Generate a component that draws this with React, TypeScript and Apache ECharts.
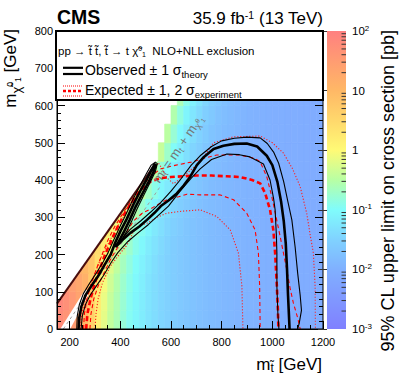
import React, { useEffect, useRef } from "react";
import * as echarts from "echarts";

const FONT = "'Liberation Sans', Arial, Helvetica, sans-serif";

// ---------- heat map: log10(95% CL upper limit [pb]), x bins 25 GeV, y rows 50 GeV ----------
const binWidth = 25;
const rowHeight = 50;
const rowStartX = [150, 150, 175, 225, 275, 325, 375, 425, 475, 550, 575, 600, 625];
const limitLog10Rows: number[][] = [
  [1.79,1.65,1.50,1.33,1.06,0.61,0.15,-0.18,-0.42,-0.61,-0.80,-0.95,-1.07,-1.18,-1.28,-1.37,-1.45,-1.52,-1.58,-1.63,-1.68,-1.72,-1.76,-1.80,-1.83,-1.86,-1.88,-1.90,-1.92,-1.94,-1.96,-1.97,-1.99,-2.00,-2.02,-2.03,-2.04,-2.05,-2.06,-2.07,-2.08,-2.09],
  [1.85,1.72,1.56,1.38,1.10,0.66,0.20,-0.15,-0.40,-0.59,-0.77,-0.93,-1.07,-1.18,-1.28,-1.37,-1.45,-1.52,-1.58,-1.63,-1.68,-1.72,-1.76,-1.80,-1.83,-1.86,-1.88,-1.90,-1.92,-1.94,-1.96,-1.97,-1.99,-2.00,-2.02,-2.03,-2.04,-2.05,-2.06,-2.07,-2.08,-2.09],
  [1.55,1.45,1.30,1.12,0.74,0.28,-0.08,-0.34,-0.55,-0.74,-0.90,-1.04,-1.16,-1.28,-1.37,-1.45,-1.52,-1.58,-1.63,-1.68,-1.72,-1.76,-1.80,-1.83,-1.86,-1.88,-1.90,-1.92,-1.94,-1.96,-1.97,-1.99,-2.00,-2.02,-2.03,-2.04,-2.05,-2.06,-2.07,-2.08,-2.09],
  [1.10,1.00,0.80,0.40,0.04,-0.23,-0.45,-0.66,-0.84,-0.99,-1.12,-1.24,-1.34,-1.44,-1.52,-1.58,-1.63,-1.68,-1.72,-1.76,-1.80,-1.83,-1.86,-1.88,-1.90,-1.92,-1.94,-1.96,-1.97,-1.99,-2.00,-2.02,-2.03,-2.04,-2.05,-2.06,-2.07,-2.08,-2.09],
  [0.65,0.45,0.20,-0.08,-0.32,-0.54,-0.74,-0.91,-1.05,-1.19,-1.30,-1.40,-1.49,-1.57,-1.63,-1.68,-1.72,-1.76,-1.80,-1.83,-1.86,-1.88,-1.90,-1.92,-1.94,-1.96,-1.97,-1.99,-2.00,-2.02,-2.03,-2.04,-2.05,-2.06,-2.07,-2.08,-2.09],
  [0.33,0.15,-0.10,-0.36,-0.58,-0.77,-0.94,-1.10,-1.23,-1.35,-1.45,-1.53,-1.60,-1.67,-1.72,-1.76,-1.80,-1.83,-1.86,-1.88,-1.90,-1.92,-1.94,-1.96,-1.97,-1.99,-2.00,-2.02,-2.03,-2.04,-2.05,-2.06,-2.07,-2.08,-2.09],
  [0.05,-0.08,-0.33,-0.56,-0.75,-0.94,-1.09,-1.24,-1.36,-1.48,-1.56,-1.63,-1.69,-1.75,-1.80,-1.83,-1.86,-1.88,-1.90,-1.92,-1.94,-1.96,-1.97,-1.99,-2.00,-2.02,-2.03,-2.04,-2.05,-2.06,-2.07,-2.08,-2.09],
  [-0.12,-0.22,-0.44,-0.69,-0.89,-1.07,-1.22,-1.36,-1.46,-1.56,-1.64,-1.71,-1.77,-1.82,-1.86,-1.88,-1.90,-1.92,-1.94,-1.96,-1.97,-1.99,-2.00,-2.02,-2.03,-2.04,-2.05,-2.06,-2.07,-2.08,-2.09],
  [-0.25,-0.33,-0.53,-0.79,-1.00,-1.17,-1.32,-1.45,-1.55,-1.64,-1.72,-1.78,-1.83,-1.87,-1.90,-1.92,-1.94,-1.96,-1.97,-1.99,-2.00,-2.02,-2.03,-2.04,-2.05,-2.06,-2.07,-2.08,-2.09],
  [-0.40,-0.72,-0.98,-1.17,-1.33,-1.46,-1.56,-1.67,-1.74,-1.80,-1.84,-1.88,-1.92,-1.94,-1.96,-1.97,-1.99,-2.00,-2.02,-2.03,-2.04,-2.05,-2.06,-2.07,-2.08,-2.09],
  [-0.48,-0.78,-1.03,-1.22,-1.37,-1.50,-1.60,-1.70,-1.77,-1.82,-1.86,-1.90,-1.94,-1.96,-1.97,-1.99,-2.00,-2.02,-2.03,-2.04,-2.05,-2.06,-2.07,-2.08,-2.09],
  [-0.55,-0.84,-1.08,-1.26,-1.41,-1.54,-1.63,-1.73,-1.79,-1.84,-1.88,-1.92,-1.96,-1.97,-1.99,-2.00,-2.02,-2.03,-2.04,-2.05,-2.06,-2.07,-2.08,-2.09],
  [-0.60,-0.89,-1.12,-1.30,-1.45,-1.57,-1.66,-1.75,-1.81,-1.86,-1.90,-1.94,-1.97,-1.99,-2.00,-2.02,-2.03,-2.04,-2.05,-2.06,-2.07,-2.08,-2.09],
];

// scan region edge along the diagonal, and the uncovered corridor at m_stop ~ m_top
const diagonalEdge = [[150, 68], [537, 442]];
const stairFromY = 450;
const gapRegion = [[163, 0], [202, 0], [278, 97], [262, 107]];
const diagGuide = [[175, 0], [560, 385]];
const diagLabelAt = [628, 484];

// ---------- exclusion contours [m_stop, m_LSP] ----------
const observed = [
  [235,0],[238,30],[246,60],[262,90],[285,115],[315,145],[340,175],[362,200],
  [380,232],[400,262],[425,295],[452,335],[480,372],[505,403],[525,430],[535,442],
  [540,440],[530,420],[508,390],[482,357],[458,325],[437,293],[415,262],[395,236],[384,222],
  [410,240],[440,258],[475,275],[505,293],[535,312],[560,330],[590,345],[623,364],[650,385],
  [676,409],[702,440],[730,462],[768,483],[807,492],[850,497],[899,498],[940,490],[978,465],
  [1000,440],[1020,395],[1035,340],[1045,290],[1053,230],[1058,160],[1062,90],[1066,30],[1068,0],
];
const observedUp = [
  [228,0],[230,35],[238,65],[254,95],[278,122],[305,150],[332,180],[352,205],
  [372,236],[395,270],[420,305],[448,345],[476,383],[502,416],[522,440],[538,448],
  [546,444],[538,422],[515,390],[490,356],[466,322],[445,290],[425,262],[405,240],
  [440,268],[480,290],[520,314],[560,340],[600,370],[636,400],[680,440],[715,465],[760,490],
  [800,505],[850,512],[900,515],[952,513],[980,498],[1005,475],[1025,445],[1045,395],[1062,340],
  [1077,293],[1090,220],[1100,150],[1110,90],[1115,50],[1106,15],[1100,0],
];
const observedDown = [
  [245,0],[250,35],[262,65],[280,90],[305,115],[335,145],[365,180],[390,205],[430,235],
  [470,258],[510,280],[550,305],[590,330],[636,370],[680,405],[715,430],[760,455],[821,470],
  [870,468],[912,462],[965,443],[991,400],[1005,350],[1011,320],[1016,250],[1018,204],
  [1018,114],[1022,40],[1026,0],
];
const expected = [
  [265,0],[270,40],[282,80],[298,120],[318,160],[340,200],[365,238],[390,275],[415,308],
  [440,336],[465,358],[490,380],[520,396],[560,405],[600,408],[650,410],[700,412],[760,412],
  [820,410],[873,408],[920,400],[952,391],[972,364],[991,320],[1004,266],[1011,204],
  [1018,114],[1022,50],[1024,0],
];
const expectedUp1 = [
  [255,0],[258,40],[268,80],[285,120],[305,160],[328,200],[352,240],[378,275],[405,305],
  [432,333],[460,362],[490,385],[520,410],[560,430],[620,440],[680,448],[740,460],[781,467],
  [873,467],[930,458],[952,449],[978,409],[998,355],[1015,300],[1031,248],[1045,200],
  [1057,159],[1070,110],[1083,70],[1100,30],[1110,0],
];
const expectedDown1 = [
  [280,0],[284,40],[295,80],[312,115],[335,150],[360,185],[390,220],[420,255],[452,290],
  [485,310],[518,322],[550,335],[584,347],[630,355],[663,362],[715,360],[794,360],[847,347],
  [899,311],[932,266],[945,204],[950,114],[952,0],
];
const expectedUp2 = [
  [243,0],[246,30],[254,60],[266,90],[282,120],[300,150],[320,185],[345,220],[370,252],
  [400,288],[430,320],[460,352],[490,385],[515,412],[535,432],[550,446],[565,430],[585,405],
  [610,390],[650,410],[715,449],[768,500],[847,516],[952,518],[1000,500],[1044,472],
  [1080,430],[1110,382],[1136,310],[1150,250],[1162,204],[1169,114],[1170,0],
];
const expectedDown2 = [
  [300,0],[304,40],[312,80],[330,125],[360,168],[400,204],[426,225],[452,262],[480,278],
  [505,284],[545,300],[584,311],[640,316],[715,320],[781,302],[834,266],[866,204],[880,114],
  [884,0],
];

// ---------- axes ----------
const xLabelValues = [200, 400, 600, 800, 1000, 1200];
const zDecades = [-3, -2, -1, 0, 1, 2];
const palette = [
  "#8080ff", "#8098ff", "#80b0ff", "#80d2ff", "#80fcfc", "#b8ffa4",
  "#fffa76", "#ffd86c", "#ffb866", "#ff9c72", "#ff8080",
];

const GRID = { left: 57, top: 31, width: 266, height: 298 };
const CB = { left: 327, top: 31, width: 19, height: 298 };

export default function App() {
  const ref = useRef<HTMLDivElement>(null);
  useEffect(() => {
    const chart = echarts.init(ref.current as HTMLDivElement, null, { renderer: "svg" });

    const heatData: number[][] = [];
    limitLog10Rows.forEach((row, r) =>
      row.forEach((v, i) => {
        const x0 = rowStartX[r] + i * binWidth;
        const y0 = r * rowHeight;
        heatData.push([x0, y0, x0 + binWidth, y0 + rowHeight, v]);
      })
    );
    const [[ex0, ey0], [ex1, ey1]] = diagonalEdge;
    const slope = (ey1 - ey0) / (ex1 - ex0);
    const f = (p: number[]) => ey0 + slope * (p[0] - ex0) - p[1];
    const clipPoly = (pts: number[][]) => {
      const out: number[][] = [];
      for (let i = 0; i < pts.length; i++) {
        const cur = pts[i];
        const prev = pts[(i + pts.length - 1) % pts.length];
        const fc = f(cur), fp = f(prev);
        const cut = () => {
          const t = fp / (fp - fc);
          return [prev[0] + t * (cur[0] - prev[0]), prev[1] + t * (cur[1] - prev[1])];
        };
        if (fc >= 0) {
          if (fp < 0) out.push(cut());
          out.push(cur);
        } else if (fp >= 0) out.push(cut());
      }
      return out;
    };

    const minorZ: number[][] = [];
    zDecades.slice(0, -1).forEach((d) => {
      for (let k = 2; k <= 9; k++) minorZ.push([0, d + Math.log10(k)]);
    });

    const contour = (data: number[][], color: string, width: number, type: any, z: number) => ({
      type: "line",
      data,
      xAxisIndex: 0,
      yAxisIndex: 0,
      symbol: "none",
      showSymbol: false,
      silent: true,
      clip: true,
      z,
      lineStyle: { color, width, type, cap: "butt", join: "round" },
      emphasis: { disabled: true },
    });

    const sub = (size: number, pad: number) => ({
      fontSize: size, fontFamily: FONT, fill: "#000", color: "#000", verticalAlign: "bottom", padding: [pad, 0, 0, 0],
    });
    const sup = (size: number, pad: number) => ({
      fontSize: size, fontFamily: FONT, fill: "#000", color: "#000", verticalAlign: "top", padding: [0, 0, pad, 0],
    });
    const norm = (size: number) => ({ fontSize: size, fontFamily: FONT, fill: "#000", color: "#000" });

    const graphics: any[] = [
      {
        type: "rect", id: "cbar", z: 50,
        shape: { x: CB.left, y: CB.top, width: CB.width, height: CB.height },
        style: {
          fill: new echarts.graphic.LinearGradient(0, 0, 0, 1,
            palette.slice().reverse().map((c, i) => ({ offset: i / (palette.length - 1), color: c }))),
        },
      },
      {
        type: "rect", id: "legbox", z: 100,
        shape: { x: 56, y: 31, width: 267, height: 69 },
        style: { fill: "#fff", stroke: "#000", lineWidth: 2 },
      },
      {
        type: "text", id: "leg1", z: 101,
        style: {
          x: 58, y: 51, text: "{n|pp → t̃ t̃, t̃ → t χ̃}{u|0}{d|1}{n|  NLO+NLL exclusion}",
          verticalAlign: "middle", textVerticalAlign: "middle",
          rich: { n: norm(11.5), u: sup(7, 4), d: sub(7, 6) },
        },
      },
      { type: "line", id: "lo1", z: 101, shape: { x1: 63, y1: 67.8, x2: 83, y2: 67.8 }, style: { stroke: "#000", lineWidth: 2.2 } },
      { type: "line", id: "lo2", z: 101, shape: { x1: 63, y1: 74, x2: 83, y2: 74 }, style: { stroke: "#000", lineWidth: 2.2 } },
      {
        type: "text", id: "leg2", z: 101,
        style: {
          x: 85, y: 70, text: "{n|Observed ± 1 σ}{d|theory}",
          verticalAlign: "middle", textVerticalAlign: "middle",
          rich: { n: norm(14), d: sub(9.5, 8) },
        },
      },
      { type: "line", id: "le1", z: 101, shape: { x1: 63, y1: 86, x2: 83, y2: 86 }, style: { stroke: "#f00", lineWidth: 1, lineDash: [1, 1] } },
      { type: "line", id: "le2", z: 101, shape: { x1: 63, y1: 91, x2: 83, y2: 91 }, style: { stroke: "#f00", lineWidth: 2.6, lineDash: [3, 2] } },
      { type: "line", id: "le3", z: 101, shape: { x1: 63, y1: 96, x2: 83, y2: 96 }, style: { stroke: "#f00", lineWidth: 1, lineDash: [1, 1] } },
      {
        type: "text", id: "leg3", z: 101,
        style: {
          x: 85, y: 90, text: "{n|Expected ± 1, 2 σ}{d|experiment}",
          verticalAlign: "middle", textVerticalAlign: "middle",
          rich: { n: norm(14), d: sub(9.5, 8) },
        },
      },
      {
        type: "text", id: "cms", z: 101,
        style: { x: 57, y: 16.5, text: "CMS", fontSize: 19.5, fontWeight: "bold", fontFamily: FONT, fill: "#000", verticalAlign: "middle", textVerticalAlign: "middle" },
      },
      {
        type: "text", id: "lumi", z: 101,
        style: {
          x: 323, y: 18, text: "{n|35.9 fb}{s|-1}{n| (13 TeV)}",
          align: "right", textAlign: "right", verticalAlign: "middle", textVerticalAlign: "middle",
          rich: { n: norm(17), s: sup(10.5, 6) },
        },
      },
      {
        type: "text", id: "ytitle", z: 101, x: 10, y: 29, rotation: Math.PI / 2,
        style: {
          text: "{m|m}{c|χ̃}{u|0}{d|1}{m| [GeV]}",
          align: "right", textAlign: "right", verticalAlign: "middle", textVerticalAlign: "middle",
          rich: { m: norm(17), c: sub(13, 8), u: norm(8.5), d: sub(8.5, 16) },
        },
      },
      {
        type: "text", id: "xtitle", z: 101, x: 322, y: 364,
        style: {
          text: "{m|m}{c|t̃}{m| [GeV]}",
          align: "right", textAlign: "right", verticalAlign: "middle", textVerticalAlign: "middle",
          rich: { m: norm(17), c: sub(12, 8) },
        },
      },
      {
        type: "text", id: "ztitle", z: 101, x: 388, y: 30, rotation: Math.PI / 2,
        style: {
          text: "95% CL upper limit on cross section [pb]",
          fontSize: 18, fontFamily: FONT, fill: "#000",
          align: "right", textAlign: "right", verticalAlign: "middle", textVerticalAlign: "middle",
        },
      },
    ];

    const option: any = {
      animation: false,
      backgroundColor: "#fff",
      grid: [
        { ...GRID, show: true, borderColor: "#000", borderWidth: 1, backgroundColor: "transparent", z: 10 },
        { ...CB, show: false },
      ],
      xAxis: [
        {
          type: "value", gridIndex: 0, min: 150, max: 1200, position: "bottom",
          axisLine: { show: true, lineStyle: { color: "#000", width: 1 } },
          axisTick: { show: true, inside: true, length: 8, lineStyle: { color: "#000" }, customValues: xLabelValues },
          axisLabel: {
            customValues: xLabelValues, color: "#000", fontSize: 11, fontFamily: FONT, margin: 7,
            formatter: (v: number) => String(v),
          },
          splitLine: { show: false },
          z: 10,
        },
        {
          type: "value", gridIndex: 0, min: 150, max: 1200, interval: 50, position: "bottom",
          axisLine: { show: false },
          axisTick: { show: true, inside: true, length: 4, lineStyle: { color: "#000" } },
          axisLabel: { show: false },
          splitLine: { show: false },
          z: 10,
        },
        { type: "value", gridIndex: 1, min: 0, max: 1, show: false },
      ],
      yAxis: [
        {
          type: "value", gridIndex: 0, min: 0, max: 800, interval: 100, position: "left",
          axisLine: { show: true, lineStyle: { color: "#000", width: 1 } },
          axisTick: { show: true, inside: true, length: 8, lineStyle: { color: "#000" } },
          minorTick: { show: true, splitNumber: 5, length: 4, lineStyle: { color: "#000" } },
          axisLabel: { color: "#000", fontSize: 11, fontFamily: FONT, margin: 4, formatter: (v: number) => String(v) },
          splitLine: { show: false },
          z: 10,
        },
        {
          type: "value", gridIndex: 0, min: 0, max: 800, interval: 100, position: "right",
          axisLine: { show: false },
          axisTick: { show: true, inside: true, length: 8, lineStyle: { color: "#000" } },
          minorTick: { show: true, splitNumber: 5, length: 4, lineStyle: { color: "#000" } },
          axisLabel: { show: false },
          splitLine: { show: false },
          z: 10,
        },
        {
          type: "value", gridIndex: 1, min: -3, max: 2, interval: 1, position: "right",
          axisLine: { show: false },
          axisTick: { show: true, inside: true, length: 9, lineStyle: { color: "#333" } },
          axisLabel: {
            margin: 6,
            formatter: (v: number) =>
              v === 0 ? "{b|1}" : v === 1 ? "{b|10}" : `{b|10}{s|${v}}`,
            rich: {
              b: { fontSize: 11.5, fontFamily: FONT, color: "#000" },
              s: { fontSize: 8, fontFamily: FONT, color: "#000", verticalAlign: "top", padding: [0, 0, 6, 0] },
            },
          },
          splitLine: { show: false },
          z: 60,
        },
      ],
      visualMap: {
        type: "continuous", show: false, min: -3, max: 2, dimension: 4, seriesIndex: 0,
        inRange: { color: palette },
      },
      graphic: graphics,
      series: [
        {
          type: "custom", xAxisIndex: 0, yAxisIndex: 0, data: heatData, clip: true, silent: true, z: 1,
          encode: { x: [0, 2], y: [1, 3] },
          renderItem: (params: any, api: any) => {
            const x0 = api.value(0), y0 = api.value(1), x1 = api.value(2), y1 = api.value(3);
            let pts = [[x0, y0], [x1, y0], [x1, y1], [x0, y1]];
            if (y0 < stairFromY) pts = clipPoly(pts);
            if (pts.length < 3) return null;
            const color = api.visual("color");
            return {
              type: "polygon",
              shape: { points: pts.map((p) => api.coord(p)) },
              style: { fill: color, stroke: color, lineWidth: 0.7 },
            };
          },
        },
        {
          type: "custom", xAxisIndex: 0, yAxisIndex: 0, data: [[0]], clip: true, silent: true, z: 2,
          renderItem: (params: any, api: any) => ({
            type: "polygon",
            shape: { points: gapRegion.map((p) => api.coord(p)) },
            style: { fill: "#fff" },
          }),
        },
        contour(diagGuide, "#a0a0a0", 1, [3, 3], 3),
        contour(expectedDown2, "#ff2020", 1.1, [1.2, 1.8], 4),
        contour(expectedUp2, "#ff2020", 1.1, [1.2, 1.8], 4),
        contour(expectedDown1, "#ff0000", 1.1, [4, 3], 4),
        contour(expectedUp1, "#ff0000", 1.1, [4, 3], 4),
        contour(expected, "#ff0000", 2.6, [5, 3], 5),
        contour(diagonalEdge, "#4a0e0e", 2, "solid", 6),
        contour(observedDown, "#000", 1.1, "solid", 6),
        contour(observedUp, "#000", 1.1, "solid", 6),
        contour(observed, "#000", 2.6, "solid", 7),
        {
          type: "custom", xAxisIndex: 2, yAxisIndex: 2, data: minorZ, silent: true, z: 60,
          renderItem: (params: any, api: any) => {
            const pt = api.coord([0, api.value(1)]);
            const cs = params.coordSys;
            return {
              type: "line",
              shape: { x1: cs.x + cs.width - 4.5, y1: pt[1], x2: cs.x + cs.width, y2: pt[1] },
              style: { stroke: "#333", lineWidth: 1 },
            };
          },
        },
      ],
    };
    chart.setOption(option);

    const p = chart.convertToPixel({ gridIndex: 0 }, diagLabelAt) as number[];
    const a = chart.convertToPixel({ gridIndex: 0 }, diagGuide[0]) as number[];
    const b = chart.convertToPixel({ gridIndex: 0 }, diagGuide[1]) as number[];
    const ang = Math.atan2(a[1] - b[1], b[0] - a[0]);
    const gcol = "#777";
    chart.setOption({
      graphic: [
        ...graphics,
        {
          type: "text", id: "diaglabel", z: 20, x: p[0], y: p[1], rotation: ang,
          style: {
            text: "{m|m}{c|t̃}{m| = m}{c|t}{m| + m}{c|χ̃}{u|0}{d|1}",
            align: "center", textAlign: "center", verticalAlign: "middle", textVerticalAlign: "middle",
            rich: {
              m: { fontSize: 13, fontFamily: FONT, fill: gcol, color: gcol },
              c: { fontSize: 9, fontFamily: FONT, fill: gcol, color: gcol, verticalAlign: "bottom", padding: [5, 0, 0, 0] },
              u: { fontSize: 6.5, fontFamily: FONT, fill: gcol, color: gcol },
              d: { fontSize: 6.5, fontFamily: FONT, fill: gcol, color: gcol, verticalAlign: "bottom", padding: [9, 0, 0, 0] },
            },
          },
        },
      ],
    });

    return () => chart.dispose();
  }, []);
  return <div ref={ref} style={{ position: "fixed", left: 0, top: 0, width: 399, height: 383 }} />;
}
